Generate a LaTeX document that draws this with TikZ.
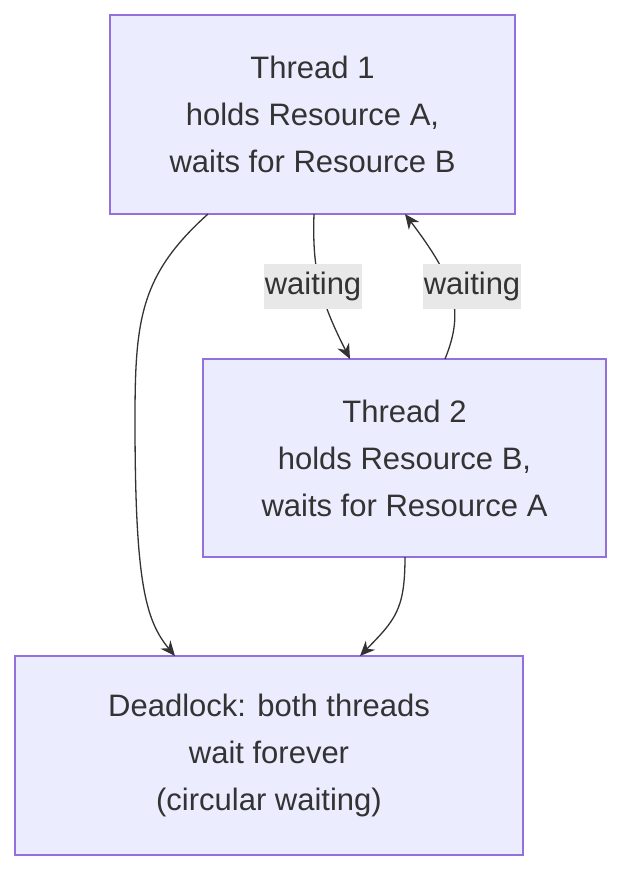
\documentclass[tikz,border=0pt]{standalone}
\usepackage{fontspec}
\setmainfont{Liberation Sans}
\usetikzlibrary{arrows.meta}
\definecolor{nfill}{HTML}{ECECFF}
\definecolor{nbord}{HTML}{9370DB}
\definecolor{txt}{HTML}{333333}
\definecolor{lbg}{HTML}{E8E8E8}
\begin{document}
\begin{tikzpicture}[x=1pt,y=-1pt,
  box/.style={draw=nbord,fill=nfill,line width=1.2pt,align=center,text=txt,font=\fontsize{31}{47}\selectfont,inner sep=0pt},
  lbl/.style={fill=lbg,text=txt,font=\fontsize{31}{36}\selectfont,inner xsep=1pt,minimum height=45pt},
  edge/.style={draw=txt,line width=1.3pt,-{Stealth[length=15pt,width=13pt]}}]
\path[use as bounding box] (0,0) rectangle (638,892);
\node[box,minimum width=405pt,minimum height=199pt] (t1) at (312.5,114.5) {Thread 1\\holds Resource A,\\waits for Resource B};
\node[box,minimum width=403pt,minimum height=198pt] (t2) at (404.5,458) {Thread 2\\holds Resource B,\\waits for Resource A};
\node[box,minimum width=508pt,minimum height=199pt] (d) at (269,755.5) {Deadlock: both threads\\wait forever\\(circular waiting)};
\coordinate (a1) at (208,214);
\coordinate (a2) at (175,656);
\draw[edge] (a1) .. controls (140,275) and (135,320) .. (135,420) .. controls (135,580) and (145,620) .. (a2);
\coordinate (b1) at (314,214);
\coordinate (b2) at (350,359);
\draw[edge] (b1) .. controls (312,270) and (320,300) .. (b2);
\coordinate (c1) at (445,359);
\coordinate (c2) at (405,214);
\draw[edge] (c1) .. controls (465,310) and (455,280) .. (c2);
\coordinate (e1) at (405,557);
\coordinate (e2) at (360,656);
\draw[edge] (e1) .. controls (405,610) and (395,620) .. (e2);
\node[lbl] (l1) at (313,286) {waiting};
\node[lbl] (l2) at (472,286) {waiting};
\end{tikzpicture}
\end{document}
